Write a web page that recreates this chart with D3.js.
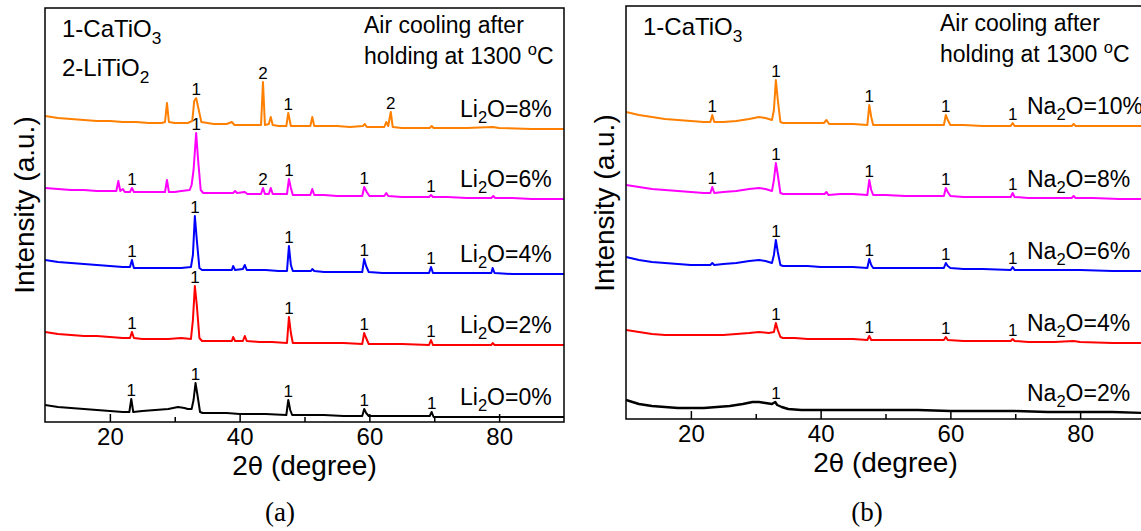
<!DOCTYPE html>
<html>
<head>
<meta charset="utf-8">
<script src="https://cdn.jsdelivr.net/npm/d3@7/dist/d3.min.js"></script>
<style>
  body { margin: 0; background: #fff; }
  svg { display: block; font-family: "Liberation Sans", Arial, sans-serif; }
</style>
</head>
<body>
<svg id="chart" width="1141" height="531"></svg>
<script>
// x axis
const twoThetaTicks = [20, 40, 60, 80];
const twoThetaMinor = [30, 50, 70];

// order: bottom trace first
const traceColors = ['#000000', '#ff0000', '#0000ff', '#ff00ff', '#ff8000'];

// ---- panel (a): Li2O additions, values as plotted (stacked, a.u.) ----
const li2oNames = ['0%', '2%', '4%', '6%', '8%'];
const li2o0 = [[10,23],[12,21],[14,20],[16,19],[18,18],[20,17],[22,16],[23.0,16],[23.3,29],[23.6,16],[25,17],[27,18],[29,19],[30.5,21],[31.5,20],[32.0,19],[32.6,19],[32.9,28],[33.2,45],[33.5,33],[33.9,16],[34.3,15],[36,15],[38,15],[40,14],[44,14],[47.2,13],[47.5,28],[47.8,18],[48.1,13],[50,13],[53,13],[56,12],[58.9,12],[59.2,19],[59.5,15],[59.9,12],[62,12],[65,12],[69.3,12],[69.6,16],[69.9,11],[72,11],[76,11],[80,11],[85,11],[90,11]];
const li2o2 = [[10,96],[12,94],[14,93],[16,92],[18,92],[20,91],[22,90],[23.1,90],[23.4,96],[23.7,90],[25,89],[27,89],[29,89],[31,90],[32.5,89],[32.8,108],[33.1,142],[33.4,123],[33.8,90],[34.2,87],[36,87],[38,87],[38.8,87],[39.0,91],[39.3,87],[40.5,87],[40.8,92],[41.1,87],[43,86],[45,86],[47.3,85],[47.6,111],[47.9,95],[48.2,85],[50,85],[53,85],[56,85],[58.9,84],[59.2,95],[59.5,90],[59.9,84],[62,84],[65,84],[69.2,83],[69.5,88],[69.8,83],[72,83],[75,83],[78.8,83],[79.0,85],[79.3,83],[82,83],[85,83],[90,83]];
const li2o4 = [[10,168],[12,166],[14,165],[16,164],[18,163],[20,162],[22,161],[23.1,161],[23.4,168],[23.7,160],[25,160],[27,160],[29,160],[31,160],[32.5,161],[32.8,173],[33.1,212],[33.4,188],[33.8,160],[34.2,158],[36,158],[38,158],[38.8,158],[39.0,162],[39.3,158],[40.5,159],[40.8,163],[41.1,158],[42,158],[44,158],[46,157],[47.3,157],[47.6,182],[47.9,163],[48.2,157],[50,157],[51.0,157],[51.2,159],[51.5,157],[53,156],[55,156],[57,156],[58.9,156],[59.2,169],[59.5,162],[59.9,156],[62,155],[65,155],[69.2,155],[69.5,161],[69.8,155],[72,155],[75,155],[78.8,155],[79.0,160],[79.3,155],[82,154],[85,154],[90,154]];
const li2o6 = [[10,240],[12,239],[14,238],[16,238],[18,237],[20,237],[21.0,237],[21.3,247],[21.6,237],[22.0,239],[22.3,236],[23.1,236],[23.4,240],[23.7,236],[25,236],[27,236],[28.5,236],[28.8,248],[29.1,236],[30,236],[31,237],[32.3,238],[32.6,243],[32.9,258],[33.3,295],[33.6,268],[34.0,238],[34.4,235],[36,235],[38,235],[39,235],[39.3,237],[39.6,235],[40.8,236],[41.2,234],[42,234],[43.3,234],[43.6,240],[43.9,234],[44.5,234],[44.8,240],[45.1,234],[46,234],[47.3,234],[47.6,249],[47.9,240],[48.2,233],[50,233],[50.9,233],[51.2,239],[51.5,233],[53,233],[55,232],[57,232],[58.9,232],[59.2,241],[59.6,236],[60,232],[61,232],[62.3,232],[62.6,235],[62.9,232],[65,231],[67,231],[69.2,231],[69.5,233],[69.8,231],[72,231],[75,230],[78.8,230],[79.1,232],[79.4,230],[82,230],[85,229],[90,229]];
const li2o8 = [[10,312],[12,310],[14,309],[16,308],[18,307],[20,307],[22,306],[24,306],[26,305],[28,305],[28.5,306],[28.8,325],[29.1,306],[30,305],[32,305],[32.7,307],[33.0,327],[33.3,330],[33.7,318],[34.1,306],[36,304],[38,304],[38.8,306],[39.2,303],[40,303],[42,303],[43.3,303],[43.6,346],[43.9,303],[44.5,304],[44.8,311],[45.1,303],[46,302],[47.2,302],[47.5,315],[47.9,302],[49,302],[50.9,302],[51.2,311],[51.5,302],[53,302],[55,302],[57,301],[59,302],[59.3,304],[59.6,301],[61,301],[62.3,301],[62.6,306],[62.9,302],[63.3,316],[63.6,301],[65,300],[67,300],[69.3,300],[69.6,302],[69.9,300],[72,300],[75,300],[79,301],[80,300],[85,299],[90,299]];
// marked reflections: 1 = CaTiO3, 2 = LiTiO2
const li2oPeaks = [
  [[23.3,'1'],[33.2,'1'],[47.5,'1'],[59.2,'1'],[69.6,'1']],
  [[23.4,'1'],[33.1,'1'],[47.6,'1'],[59.2,'1'],[69.5,'1']],
  [[23.4,'1'],[33.1,'1'],[47.6,'1'],[59.2,'1'],[69.5,'1']],
  [[23.4,'1'],[33.3,'1'],[43.6,'2'],[47.6,'1'],[59.2,'1'],[69.5,'1']],
  [[33.3,'1'],[43.6,'2'],[47.5,'1'],[63.3,'2']]
];

// ---- panel (b): Na2O additions ----
const na2oNames = ['2%', '4%', '6%', '8%', '10%'];
const na2o2 = [[10,18],[11,16],[12,14],[14,12],[16,11],[18,10],[20,10],[22,10],[24,11],[26,12],[28,14],[29.5,16],[30.5,16],[31.5,15],[32.5,14],[33.0,16],[33.3,13],[34,11],[35,9],[37,8],[40,8],[45,8],[50,8],[55,8],[60,7],[65,7],[70,7],[75,6],[80,6],[85,6],[90,5]];
const na2o4 = [[10,88],[12,86],[14,84],[16,83],[18,83],[20,83],[22,83],[25,83],[27,84],[29,85],[30.5,86],[32,85],[32.8,86],[33.1,95],[33.4,88],[33.8,81],[34.2,80],[36,80],[38,79],[40,79],[43,79],[45,79],[47.2,78],[47.5,82],[47.8,78],[50,78],[53,78],[56,78],[59.0,78],[59.3,81],[59.6,78],[62,77],[65,77],[69.3,77],[69.6,79],[69.9,77],[72,76],[76,76],[79,77],[80,76],[85,75],[90,75]];
const na2o6 = [[10,161],[12,158],[14,156],[16,155],[18,154],[20,153],[22,153],[23.0,153],[23.3,155],[23.6,153],[25,154],[27,155],[29,157],[30.5,158],[31.5,157],[32.5,155],[32.8,163],[33.1,178],[33.4,166],[33.8,153],[34.2,152],[36,152],[38,152],[40,151],[43,151],[45,151],[47.2,150],[47.5,159],[47.8,153],[48.1,150],[50,150],[53,150],[56,150],[59.0,150],[59.3,155],[59.6,152],[60.0,150],[62,149],[65,149],[69.3,148],[69.6,151],[69.9,148],[72,148],[76,148],[80,148],[85,147],[90,147]];
const na2o8 = [[10,233],[12,231],[14,229],[16,228],[18,227],[20,226],[22,225],[23.0,225],[23.3,231],[23.6,225],[25,226],[27,227],[29,229],[30.5,230],[31.5,229],[32.5,227],[32.8,238],[33.1,255],[33.4,243],[33.8,225],[34.2,224],[36,224],[38,224],[40.6,224],[40.9,226],[41.2,223],[43,224],[45,224],[47.2,223],[47.5,238],[47.8,228],[48.1,223],[50,223],[53,222],[56,222],[59.0,222],[59.3,230],[59.6,226],[60.0,222],[62,221],[65,221],[69.3,221],[69.6,225],[69.9,221],[72,220],[75,220],[78.7,220],[79.0,222],[79.3,220],[82,220],[86,219],[90,219]];
const na2o10 = [[10,306],[12,303],[14,301],[16,299],[18,298],[20,297],[22,296],[23.0,296],[23.3,303],[23.6,296],[25,296],[27,297],[29,299],[30.5,301],[31.5,300],[32.5,298],[32.8,308],[33.1,338],[33.4,318],[33.8,296],[34.2,295],[36,295],[38,295],[40.5,295],[40.9,298],[41.3,294],[43,294],[45,294],[47.2,293],[47.5,313],[47.8,301],[48.1,293],[50,293],[53,293],[56,293],[59.0,293],[59.3,303],[59.6,298],[60.0,293],[62,293],[65,292],[69.3,292],[69.6,295],[69.9,292],[72,292],[75,292],[78.7,292],[79.0,294],[79.3,292],[82,292],[86,292],[90,292]];
const na2oPeaks = [
  [[33.1,'1']],
  [[33.1,'1'],[47.5,'1'],[59.3,'1'],[69.6,'1']],
  [[33.1,'1'],[47.5,'1'],[59.3,'1'],[69.6,'1']],
  [[23.3,'1'],[33.1,'1'],[47.5,'1'],[59.3,'1'],[69.6,'1']],
  [[23.3,'1'],[33.1,'1'],[47.5,'1'],[59.3,'1'],[69.6,'1']]
];

const svg = d3.select('#chart');

// text with sub/superscript pieces: [text, 'sub'|'sup'|undefined]
function richText (sel, parts, size) {
  let shift = 0;
  parts.forEach(([str, kind]) => {
    const want = kind === 'sub' ? size * 0.28 : kind === 'sup' ? -size * 0.4 : 0;
    const ts = sel.append('tspan').attr('dy', want - shift).text(str);
    if (kind) ts.attr('font-size', size * 0.72);
    shift = want;
  });
}

function drawPanel (p) {
  const x = d3.scaleLinear().domain([10, 90]).range([p.left, p.right]);
  const y = d3.scaleLinear().domain(p.yDomain).range([p.bottom, p.top]);
  const g = svg.append('g');

  svg.append('clipPath').attr('id', 'clip-' + p.id)
    .append('rect')
    .attr('x', p.left).attr('y', p.top)
    .attr('width', p.right - p.left).attr('height', p.bottom - p.top);

  const line = d3.line().x(d => x(d[0])).y(d => y(d[1]));

  p.series.forEach((s, i) => {
    g.append('path')
      .datum(s)
      .attr('d', line)
      .attr('fill', 'none')
      .attr('stroke', traceColors[i])
      .attr('stroke-width', p.id === 'b' && i === 0 ? 2.4 : 2)
      .attr('stroke-linejoin', 'round')
      .attr('clip-path', `url(#clip-${p.id})`);

    p.peaks[i].forEach(([pos, phase]) => {
      const top = d3.max(s.filter(d => Math.abs(d[0] - pos) <= 0.35), d => d[1]);
      g.append('text')
        .attr('x', x(pos))
        .attr('y', y(top) - 3)
        .attr('text-anchor', 'middle')
        .attr('font-size', 17)
        .text(phase);
    });

    const last = s[s.length - 1][1];
    const lab = g.append('text')
      .attr('x', p.labelX)
      .attr('y', y(last) - 12)
      .attr('font-size', 23);
    richText(lab, [[p.oxide], ['2', 'sub'], ['O=' + p.names[i]]], 23);
  });

  // bottom axis, ticks pointing inward
  const axis = d3.axisBottom(x)
    .tickValues(twoThetaTicks)
    .tickSizeInner(-8)
    .tickSizeOuter(0)
    .tickPadding(6)
    .tickFormat(d3.format('d'));
  const ag = g.append('g')
    .attr('transform', `translate(0,${p.bottom})`)
    .call(axis);
  ag.attr('font-family', '"Liberation Sans", Arial, sans-serif').attr('font-size', 24);
  ag.select('.domain').remove();
  ag.selectAll('.tick line').attr('stroke', '#000').attr('stroke-width', 1.5);
  ag.selectAll('.tick text').attr('fill', '#000');

  const minor = d3.axisBottom(x).tickValues(twoThetaMinor).tickSize(-5).tickFormat('');
  const mg = g.append('g').attr('transform', `translate(0,${p.bottom})`).call(minor);
  mg.select('.domain').remove();
  mg.selectAll('.tick line').attr('stroke', '#000').attr('stroke-width', 1.5);

  g.append('rect')
    .attr('x', p.left).attr('y', p.top)
    .attr('width', p.right - p.left).attr('height', p.bottom - p.top)
    .attr('fill', 'none')
    .attr('stroke', '#000')
    .attr('stroke-width', 1.5);

  // axis titles
  const xt = g.append('text')
    .attr('x', (p.left + p.right) / 2)
    .attr('y', p.bottom + 53)
    .attr('text-anchor', 'middle')
    .attr('font-size', 28);
  xt.append('tspan').text('2');
  xt.append('tspan').attr('font-family', '"DejaVu Sans", sans-serif').attr('font-size', 25).text('\u03b8');
  xt.append('tspan').text(' (degree)');

  g.append('text')
    .attr('transform', `translate(${p.yTitleX},${p.yTitleY}) rotate(-90)`)
    .attr('text-anchor', 'middle')
    .attr('font-size', 28)
    .text('Intensity (a.u.)');

  // annotations
  p.phases.forEach((ph, k) => {
    const t = g.append('text')
      .attr('x', p.left + 17)
      .attr('y', p.top + 29 + k * 39)
      .attr('font-size', 24);
    richText(t, ph, 24);
  });
  const note1 = g.append('text').attr('x', p.noteX).attr('y', p.top + 25).attr('font-size', 23);
  note1.text('Air cooling after');
  const note2 = g.append('text').attr('x', p.noteX).attr('y', p.top + 56).attr('font-size', 23);
  richText(note2, [['holding at 1300 '], ['o', 'sup'], ['C']], 23);

  svg.append('text')
    .attr('x', p.tagX)
    .attr('y', 521)
    .attr('text-anchor', 'middle')
    .attr('font-family', '"Liberation Serif", "Times New Roman", serif')
    .attr('font-size', 27)
    .text(p.tag);
}

drawPanel({
  id: 'a', left: 45, right: 564, top: 8, bottom: 422, yDomain: [6, 420],
  series: [li2o0, li2o2, li2o4, li2o6, li2o8], peaks: li2oPeaks,
  names: li2oNames, oxide: 'Li', labelX: 460,
  phases: [[['1-CaTiO'], ['3', 'sub']], [['2-LiTiO'], ['2', 'sub']]],
  noteX: 364, yTitleX: 34, yTitleY: 205, tag: '(a)', tagX: 280
});

drawPanel({
  id: 'b', left: 626, right: 1145, top: 6, bottom: 419, yDomain: [-1, 412],
  series: [na2o2, na2o4, na2o6, na2o8, na2o10], peaks: na2oPeaks,
  names: na2oNames, oxide: 'Na', labelX: 1027,
  phases: [[['1-CaTiO'], ['3', 'sub']]],
  noteX: 940, yTitleX: 614, yTitleY: 203, tag: '(b)', tagX: 867
});
</script>
</body>
</html>
